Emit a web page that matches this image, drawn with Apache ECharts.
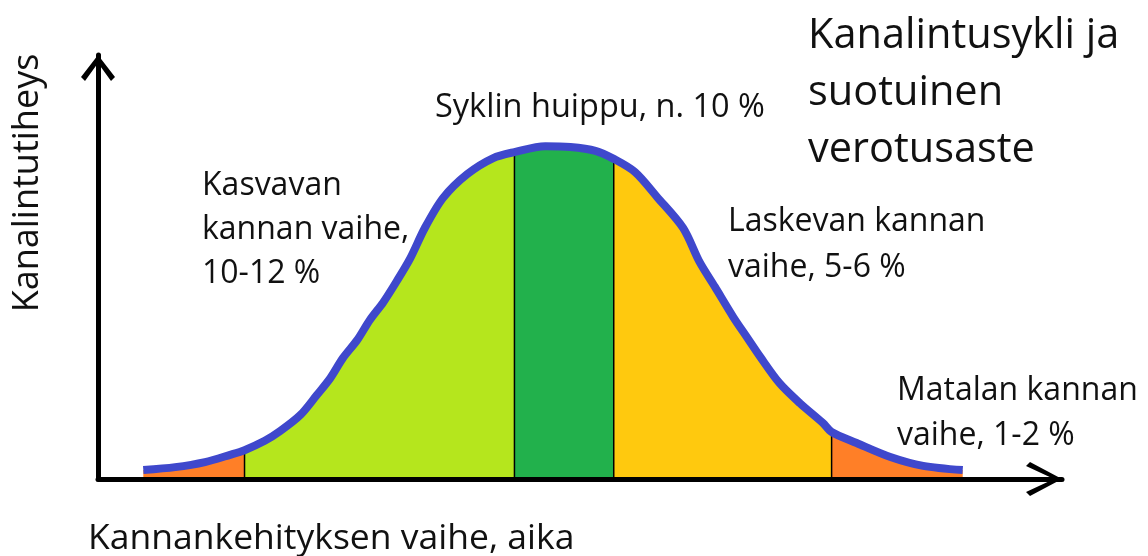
<!DOCTYPE html>
<html lang="fi">
<head>
<meta charset="utf-8">
<title>Kanalintusykli ja suotuinen verotusaste</title>
<script src="https://cdn.jsdelivr.net/npm/echarts@6/dist/echarts.min.js"></script>
<style>
    html, body { margin: 0; padding: 0; background: #ffffff; }
    #cycleChart { width: 1148px; height: 556px; }
</style>
</head>
<body>
<div id="cycleChart"></div>
<script>
// =================================================================
// DATA: curve (x = time 0-100, y = density 0-100)
// =================================================================
const curveX = [4.7, 8.0, 11.1, 13.7, 15.2, 17.3, 18.9, 21.0, 22.7, 24.1, 25.4, 26.9, 28.2, 29.6, 31.0,
    32.4, 33.9, 35.8, 38.3, 41.0, 43.2, 46.4, 49.0, 51.6, 53.5, 55.7, 58.0, 60.7, 62.4, 64.0, 65.9,
    67.3, 68.7, 70.7, 72.8, 75.2, 76.1, 78.7, 82.2, 85.6, 89.7];
const curveY = [2.1, 2.8, 4.0, 5.7, 6.8, 9.0, 11.3, 15.1, 19.8, 23.8, 28.5, 32.8, 37.5, 41.7, 46.7,
    52.1, 59.2, 66.3, 71.9, 75.7, 77.1, 78.5, 78.3, 77.4, 75.5, 72.4, 66.5, 59.2, 51.2, 45.3, 38.2,
    33.5, 28.8, 22.6, 17.9, 13.2, 11.1, 8.5, 5.2, 3.1, 2.1];

// phase limits on the time axis (each one is a point of the curve)
const phaseBounds = [4.7, 15.2, 43.2, 53.5, 76.1, 89.7];
const phaseNames = ['Matala (alku)', 'Kasvava', 'Huippu', 'Laskeva', 'Matala (loppu)'];
const phaseColors = ['#FF7F27', '#B5E61D', '#22B14C', '#FFC90E', '#FF7F27'];

// texts
const titleLines = ['Kanalintusykli ja', 'suotuinen', 'verotusaste'];
const peakLabel = ['Syklin huippu, n. 10 %'];
const growLabel = ['Kasvavan', 'kannan vaihe,', '10-12 %'];
const fallLabel = ['Laskevan kannan', 'vaihe, 5-6 %'];
const lowLabel = ['Matalan kannan', 'vaihe, 1-2 %'];
const xAxisName = 'Kannankehityksen vaihe, aika';
const yAxisName = 'Kanalintutiheys';

document.addEventListener('DOMContentLoaded', function () {
    const chartElement = document.getElementById('cycleChart');
    if (!chartElement) return;

    try {
        const chart = echarts.init(chartElement);
        const curve = curveX.map((x, i) => [x, curveY[i]]);

        // --- coloured phases under the curve ---
        const phaseSeries = phaseColors.map((color, i) => ({
            type: 'line',
            name: phaseNames[i],
            data: curve.filter(p => p[0] >= phaseBounds[i] && p[0] <= phaseBounds[i + 1]),
            symbol: 'none',
            smooth: 0.3,
            lineStyle: { width: 0, opacity: 0 },
            areaStyle: { color: color, opacity: 1 },
            silent: true,
            z: 1
        }));

        // --- thin black dividers between phases ---
        const dividerSeries = phaseBounds.slice(1, -1).map(b => {
            const top = curve.find(p => p[0] === b);
            return {
                type: 'line',
                data: [[b, 0], [b, top[1]]],
                symbol: 'none',
                lineStyle: { color: '#000000', width: 1.5 },
                silent: true,
                z: 2
            };
        });

        // --- blue cycle curve ---
        const curveSeries = {
            type: 'line',
            name: 'Kanalintutiheys',
            data: curve,
            symbol: 'none',
            smooth: 0.3,
            lineStyle: { color: '#3F48CC', width: 8 },
            silent: true,
            z: 3
        };

        // open chevron arrows (point up, ECharts turns them along the axis)
        const arrowY = 'path://M17,0 L34,22 L30,26 L17,8 L4,26 L0,22 Z';
        const arrowX = 'path://M17,0 L34,32 L30,36 L17,8 L4,36 L0,32 Z';

        const makeText = (lines, x, y, fontSize, lineHeight) => ({
            type: 'text',
            x: x,
            y: y,
            style: {
                text: lines.join('\n'),
                fontFamily: 'Open Sans',
                fontSize: fontSize,
                lineHeight: lineHeight,
                verticalAlign: 'top',
                fill: '#111111'
            }
        });

        const option = {
            animation: false,
            grid: { left: 98, right: 86, top: 55, bottom: 77 },
            xAxis: {
                type: 'value',
                min: 0,
                max: 100,
                z: 5,
                axisLine: {
                    show: true,
                    onZero: false,
                    symbol: ['none', arrowX],
                    symbolSize: [34, 36],
                    symbolOffset: [0, -18],
                    lineStyle: { color: '#000000', width: 5 }
                },
                axisTick: { show: false },
                axisLabel: { show: false },
                splitLine: { show: false }
            },
            yAxis: {
                type: 'value',
                min: 0,
                max: 100,
                z: 5,
                axisLine: {
                    show: true,
                    symbol: ['none', arrowY],
                    symbolSize: [34, 26],
                    symbolOffset: [0, -13],
                    lineStyle: { color: '#000000', width: 5 }
                },
                axisTick: { show: false },
                axisLabel: { show: false },
                splitLine: { show: false }
            },
            graphic: [
                makeText(titleLines, 808, 8, 41.5, 57),
                makeText(peakLabel, 435, 86, 32.5, 44),
                makeText(growLabel, 202, 164, 32, 44),
                makeText(fallLabel, 728, 199, 32, 46),
                makeText(lowLabel, 897, 368, 32, 45),
                makeText([xAxisName], 88, 517, 35.5, 44),
                {
                    type: 'text',
                    x: 28,
                    y: 183,
                    rotation: Math.PI / 2,
                    style: {
                        text: yAxisName,
                        fontFamily: 'Open Sans',
                        fontSize: 36,
                        align: 'center',
                        verticalAlign: 'middle',
                        fill: '#111111'
                    }
                }
            ],
            series: phaseSeries.concat(dividerSeries, [curveSeries])
        };

        chart.setOption(option);
        window.addEventListener('resize', function () {
            chart.resize();
        });
    } catch (e) {
        console.error('Chart error:', e);
    }
});
</script>
</body>
</html>
